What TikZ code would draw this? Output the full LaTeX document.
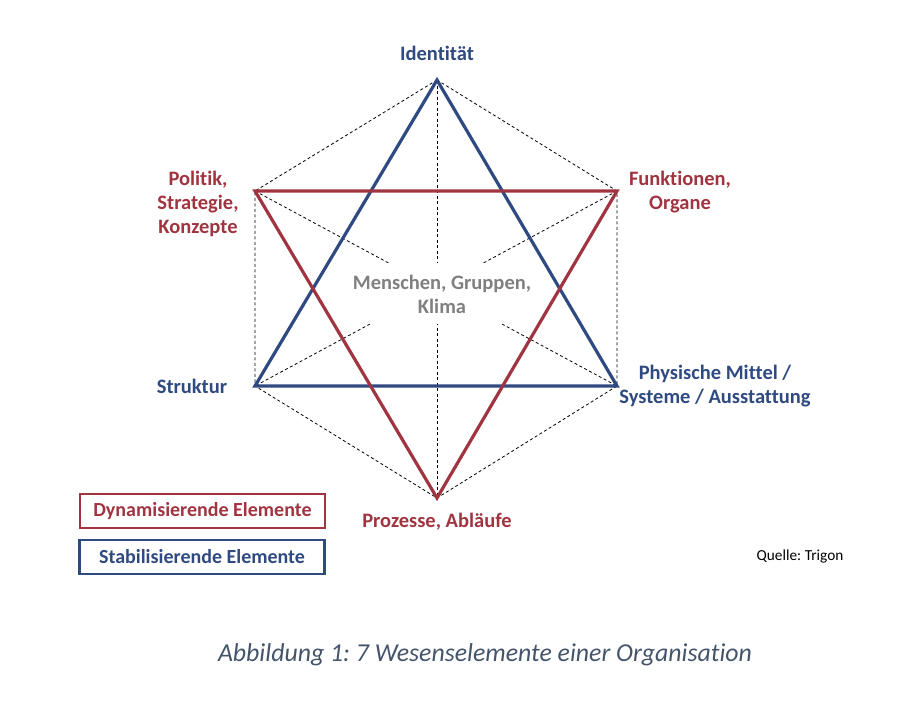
\documentclass[tikz,border=0pt]{standalone}
\usepackage{fontspec}
\setmainfont[Ligatures={NoCommon}]{Carlito}
\definecolor{wblue}{RGB}{47,74,128}
\definecolor{wred}{RGB}{160,52,64}
\definecolor{wgray}{RGB}{128,128,128}
\definecolor{capgray}{RGB}{68,84,106}
\frenchspacing
\begin{document}
\begin{tikzpicture}[x=1pt,y=-1pt,
    hexline/.style={dashed,dash pattern=on 3pt off 2.5pt,line width=0.8pt},
    dyn/.style={wred,line width=3.2pt,line join=miter},
    stab/.style={wblue,line width=3.2pt,line join=miter},
    lbl/.style={font=\bfseries\fontsize{20.5}{24}\selectfont,align=center,inner sep=0pt},
    legendbox/.style={draw,line width=2.4pt,minimum width=245pt,minimum height=34pt,font=\bfseries\fontsize{20}{22}\selectfont}]
   \useasboundingbox (0,0) rectangle (915,705);
   \coordinate (id) at (437,80);
   \coordinate (pol) at (255,191);
   \coordinate (fun) at (617,191);
   \coordinate (str) at (255,386);
   \coordinate (phy) at (617,386);
   \coordinate (pro) at (437,498);
   % dashed hexagon and diagonals
   \draw[hexline] (id) -- (pol) -- (str) -- (pro) -- (phy) -- (fun) -- cycle;
   \draw[hexline] (id) -- (pro);
   \draw[hexline] (pol) -- (phy);
   \draw[hexline] (fun) -- (str);
   \node[fill=white,minimum width=170pt,minimum height=61pt,inner sep=0pt] (mid) at (440,293.5) {};
   \node[lbl,wgray] (mens) at (442,294) {Menschen, Gruppen,\\Klima};
   % the two triangles
   \draw[stab] (id) -- (str) -- (phy) -- cycle;
   \draw[dyn] (pol) -- (fun) -- (pro) -- cycle;
   % labels
   \node[lbl,wblue] (lid) at (437,53) {Identität};
   \node[lbl,wred] (lpol) at (198,204) {Politik,\\Strategie,\\Konzepte};
   \node[lbl,wred] (lfun) at (680,192) {Funktionen,\\Organe};
   \node[lbl,wblue] (lstr) at (192,386) {Struktur};
   \node[lbl,wblue] (lphy) at (715,386) {Physische Mittel /\\Systeme / Ausstattung};
   \node[lbl,wred] (lpro) at (437,522) {Prozesse, Abläufe};
   \node[legendbox,wred] (dynbox) at (202.5,511) {Dynamisierende Elemente};
   \node[legendbox,wblue] (stabbox) at (202,557) {Stabilisierende Elemente};
   \node[font=\fontsize{15.3}{17}\selectfont] (quelle) at (800,556) {Quelle: Trigon};
   \node[font=\itshape\fontsize{25.8}{28}\selectfont,text=capgray] (cap) at (485,655) {Abbildung 1: 7 Wesenselemente einer Organisation};
\end{tikzpicture}
\end{document}
